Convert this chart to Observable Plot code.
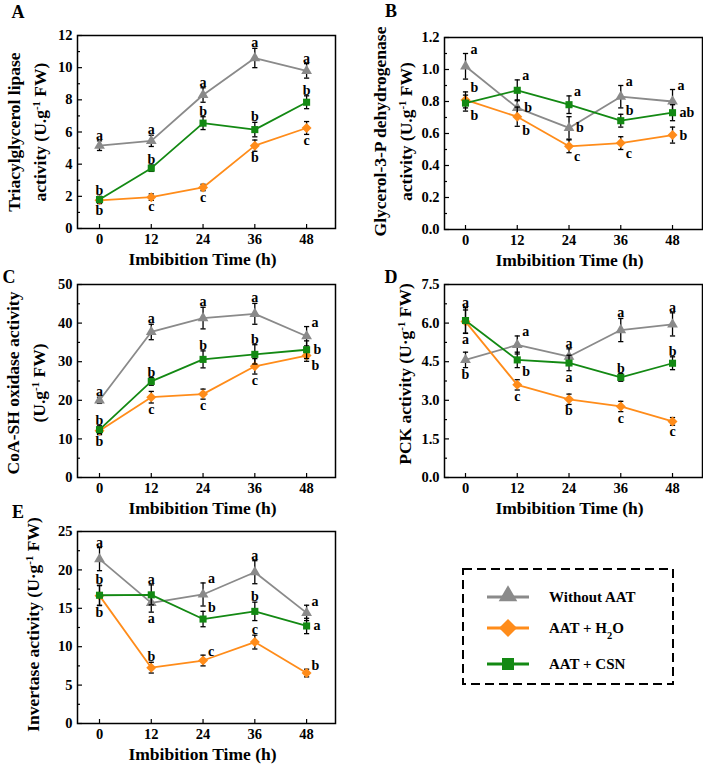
<!DOCTYPE html>
<html><head><meta charset="utf-8">
<script src="https://cdn.jsdelivr.net/npm/d3@7"></script>
<script src="https://cdn.jsdelivr.net/npm/@observablehq/plot@0.6"></script>
<style>
body{margin:0;background:#fff;}
#fig{position:relative;width:703px;height:765px;background:#fff;font-family:"Liberation Serif","Times New Roman",Times,serif;font-weight:bold;color:#000;}
.pl{position:absolute;}
.tag{position:absolute;font-size:18px;font-weight:bold;line-height:1;}
</style></head><body><div id="fig"></div>
<script>
// ---------- data ----------
const hours = [0, 12, 24, 36, 48];
const seriesNames = ["Without AAT", "AAT + H2O", "AAT + CSN"];
const seriesColors = ["#8a8a8a", "#ff8c1a", "#138913"];
const seriesSymbols = ["triangle", "diamond2", "square"];
const seriesR = [4, 4.5, 4];

// A: Triacylglycerol lipase
const tagMean = [[5.15, 5.45, 8.3, 10.6, 9.8], [1.75, 1.95, 2.55, 5.15, 6.25], [1.8, 3.75, 6.55, 6.15, 7.85]];
const tagErr = [[0.3, 0.35, 0.45, 0.6, 0.45], [0.2, 0.2, 0.2, 0.35, 0.4], [0.2, 0.2, 0.4, 0.45, 0.4]];
const tagLetter = [["a","a","a","a","a"], ["b","c","c","b","c"], ["b","b","b","b","b"]];
const tagPos = [["u","u","u","u","u"], ["d","d","d","d","d"], ["u","u","u","u","u"]];

// B: Glycerol-3-P dehydrogenase
const g3pMean = [[1.02, 0.76, 0.635, 0.83, 0.80], [0.81, 0.705, 0.52, 0.54, 0.59], [0.79, 0.87, 0.78, 0.68, 0.73]];
const g3pErr = [[0.08, 0.05, 0.07, 0.07, 0.075], [0.05, 0.06, 0.04, 0.04, 0.05], [0.05, 0.065, 0.055, 0.04, 0.05]];
const g3pLetter = [["a","b","b","a","a"], ["b","b","c","c","b"], ["b","a","a","b","ab"]];
const g3pPos = [["ru","r","r","ru","ru"], ["ru","rd","rd","rd","r"], ["rd","ru","ru","ru","r"]];

// C: CoA-SH oxidase
const coaMean = [[20, 37.7, 41.3, 42.4, 36.6], [12.1, 20.8, 21.6, 28.8, 31.6], [12.4, 24.9, 30.6, 31.9, 33.1]];
const coaErr = [[0.8, 2, 2.8, 2.7, 2.5], [1, 1.5, 1.3, 2, 1.5], [1, 1, 2.2, 2.5, 2.3]];
const coaLetter = [["a","a","a","a","a"], ["b","c","c","c","b"], ["b","b","b","b","b"]];
const coaPos = [["u","u","u","u","ru"], ["d","d","d","d","rd"], ["u","u","u","u","r"]];

// D: PCK
const pckMean = [[4.57, 5.15, 4.7, 5.73, 5.95], [6.06, 3.6, 3.04, 2.76, 2.18], [6.1, 4.57, 4.45, 3.89, 4.44]];
const pckErr = [[0.3, 0.35, 0.3, 0.45, 0.45], [0.45, 0.2, 0.2, 0.2, 0.15], [0.5, 0.3, 0.3, 0.15, 0.25]];
const pckLetter = [["b","a","a","a","a"], ["a","c","b","c","c"], ["a","b","a","b","b"]];
const pckPos = [["d","ru","u","u","u"], ["d","d","d","d","d"], ["u","rd","d","u","u"]];

// E: Invertase
const invMean = [[21.4, 15.7, 16.8, 19.7, 14.4], [16.65, 7.27, 8.2, 10.6, 6.57], [16.7, 16.75, 13.6, 14.6, 12.7]];
const invErr = [[1.5, 1.2, 1.5, 1.5, 1.0], [1.3, 0.7, 0.7, 0.9, 0.5], [1.3, 1.3, 1.0, 1.2, 1.0]];
const invLetter = [["a","a","a","a","a"], ["b","b","c","c","b"], ["b","a","b","b","a"]];
const invPos = [["u","d","ru","u","ru"], ["d","u","ru","u","ru"], ["u","u","ru","u","r"]];

// ---------- drawing ----------
const FONT = '"Liberation Serif", "Times New Roman", Times, serif';
const fig = document.getElementById("fig");
const capSym = {draw(c) { c.moveTo(-2.6, 0); c.lineTo(2.6, 0); }};
const tickUp = {draw(c) { c.moveTo(0, 0); c.lineTo(0, -4.5); }};
const tickMajorY = {draw(c) { c.moveTo(0, 0); c.lineTo(4.5, 0); }};
const tickMinorY = {draw(c) { c.moveTo(0, 0); c.lineTo(2.5, 0); }};

function supify(svg) {
  svg.querySelectorAll("text, tspan").forEach(el => {
    if (el.children.length) return;
    const s = el.textContent;
    const i = s.indexOf("⁻¹");
    if (i < 0) return;
    el.textContent = "";
    el.append(document.createTextNode(s.slice(0, i)));
    const sup = document.createElementNS("http://www.w3.org/2000/svg", "tspan");
    sup.setAttribute("baseline-shift", "super");
    sup.setAttribute("font-size", "0.62em");
    sup.textContent = "-1";
    el.append(sup);
    const rest = document.createElementNS("http://www.w3.org/2000/svg", "tspan");
    rest.textContent = s.slice(i + 2);
    el.append(rest);
  });
}

const place = {
  u: {y: d => d.v + d.e, lineAnchor: "bottom", dy: -1, textAnchor: "middle"},
  d: {y: d => d.v - d.e, lineAnchor: "top", dy: 1, textAnchor: "middle"},
  r: {y: d => d.v, lineAnchor: "middle", dx: 7, textAnchor: "start"},
  ru: {y: d => d.v + d.e, lineAnchor: "middle", dx: 5, dy: -4, textAnchor: "start"},
  rd: {y: d => d.v - d.e, lineAnchor: "middle", dx: 5, dy: 4, textAnchor: "start"}
};

function panel(cfg) {
  const rows = [];
  cfg.mean.forEach((arr, s) => arr.forEach((v, i) => rows.push({
    t: hours[i], v, e: cfg.err[s][i], s, L: cfg.letter[s][i], p: cfg.pos[s][i]
  })));
  const n = Math.round(cfg.yMax / cfg.yStep);
  const yTicks = d3.range(0, n + 1).map(k => +(k * cfg.yStep).toFixed(4));
  const yMinor = d3.range(0, n).map(k => +((k + 0.5) * cfg.yStep).toFixed(4));
  const marks = [];
  for (let s = 0; s < 3; s++) {
    const rs = rows.filter(d => d.s === s);
    marks.push(
      Plot.ruleX(rs, {x: "t", y1: d => d.v - d.e, y2: d => d.v + d.e, stroke: "black", strokeWidth: 1.3}),
      Plot.dot(rs, {x: "t", y: d => d.v + d.e, symbol: capSym, stroke: "black", fill: "none", strokeWidth: 1.3}),
      Plot.dot(rs, {x: "t", y: d => d.v - d.e, symbol: capSym, stroke: "black", fill: "none", strokeWidth: 1.3}),
      Plot.line(rs, {x: "t", y: "v", stroke: seriesColors[s], strokeWidth: 1.8}),
      Plot.dot(rs, {x: "t", y: "v", symbol: seriesSymbols[s], fill: seriesColors[s], stroke: "none", r: seriesR[s]})
    );
  }
  for (const [k, o] of Object.entries(place)) {
    const rs = rows.filter(d => d.p === k);
    if (rs.length) marks.push(Plot.text(rs, {x: "t", text: "L", fontSize: 14, fontWeight: "bold", fill: "black", ...o}));
  }
  marks.push(
    Plot.axisX({ticks: hours, tickSize: 0, tickPadding: 5, fontSize: 14.5, fontWeight: "bold", label: null}),
    Plot.axisY({ticks: yTicks, tickSize: 0, tickPadding: 5, tickFormat: cfg.yFmt, fontSize: 14.5, fontWeight: "bold", label: null}),
    Plot.dot(hours, {x: d => d, frameAnchor: "bottom", symbol: tickUp, stroke: "black", fill: "none", strokeWidth: 1.2}),
    Plot.dot(yTicks, {y: d => d, frameAnchor: "left", symbol: tickMajorY, stroke: "black", fill: "none", strokeWidth: 1.2}),
    Plot.dot(yMinor, {y: d => d, frameAnchor: "left", symbol: tickMinorY, stroke: "black", fill: "none", strokeWidth: 1.2}),
    Plot.frame({stroke: "black", strokeWidth: 1.5}),
    Plot.text([cfg.yLabel], {text: d => d, frameAnchor: "left", rotate: -90, dx: cfg.labelDx, dy: cfg.labelDy,
      textAnchor: "middle", lineAnchor: "middle", lineHeight: 1.5, fontSize: 17.5, fontWeight: "bold", fill: "black"}),
    Plot.text(["Imbibition Time (h)"], {text: d => d, frameAnchor: "bottom", dx: -4, dy: 31,
      textAnchor: "middle", lineAnchor: "middle", fontSize: 17.5, fontWeight: "bold", fill: "black"})
  );
  const plot = Plot.plot({
    width: cfg.width, height: cfg.height,
    marginLeft: cfg.ml, marginRight: cfg.mr, marginTop: cfg.mt, marginBottom: cfg.mb,
    x: {domain: cfg.xDomain},
    y: {domain: [0, cfg.yMax]},
    style: {fontFamily: FONT, fontWeight: "bold", fontSize: "14.5px", background: "transparent", color: "black", overflow: "visible"},
    marks
  });
  supify(plot);
  const div = document.createElement("div");
  div.className = "pl";
  div.style.left = cfg.left + "px";
  div.style.top = cfg.top + "px";
  div.style.width = cfg.width + "px";
  div.appendChild(plot);
  fig.appendChild(div);
}

const fmt1 = d3.format(".1f");
const xL = [-5.1, 54.7], xR = [-4.87, 54.95];

panel({mean: tagMean, err: tagErr, letter: tagLetter, pos: tagPos, yMax: 12, yStep: 2, yFmt: null,
  yLabel: "Triacylglycerol lipase\nactivity (U.g⁻¹ FW)", labelDx: -53, labelDy: 0,
  left: 0, top: 0, width: 350, height: 270, ml: 77, mr: 15, mt: 35, mb: 42, xDomain: xL});
panel({mean: g3pMean, err: g3pErr, letter: g3pLetter, pos: g3pPos, yMax: 1.2, yStep: 0.2, yFmt: fmt1,
  yLabel: "Glycerol-3-P dehydrogenase\nactivity (U.g⁻¹ FW)", labelDx: -54, labelDy: -2,
  left: 350, top: 0, width: 353, height: 270, ml: 94, mr: 1, mt: 37, mb: 41, xDomain: xR});
panel({mean: coaMean, err: coaErr, letter: coaLetter, pos: coaPos, yMax: 50, yStep: 10, yFmt: null,
  yLabel: "CoA-SH oxidase activity\n(U.g⁻¹ FW)", labelDx: -54, labelDy: 2,
  left: 0, top: 270, width: 350, height: 260, ml: 77, mr: 15, mt: 14, mb: 53, xDomain: xL});
panel({mean: pckMean, err: pckErr, letter: pckLetter, pos: pckPos, yMax: 7.5, yStep: 1.5, yFmt: fmt1,
  yLabel: "PCK activity (U·g⁻¹ FW)", labelDx: -42, labelDy: -7,
  left: 350, top: 270, width: 353, height: 260, ml: 94, mr: 1, mt: 14, mb: 53, xDomain: xR});
panel({mean: invMean, err: invErr, letter: invLetter, pos: invPos, yMax: 25, yStep: 5, yFmt: null,
  yLabel: "Invertase activity (U·g⁻¹ FW)", labelDx: -47, labelDy: -3,
  left: 0, top: 525, width: 350, height: 240, ml: 77, mr: 15, mt: 6, mb: 42, xDomain: xL});

// panel tags
[["A", 18, 12], ["B", 391, 11], ["C", 9, 277], ["D", 391, 277], ["E", 18, 512]].forEach(([t, x, y]) => {
  const d = document.createElement("div");
  d.className = "tag";
  d.textContent = t;
  d.style.left = x + "px";
  d.style.top = y + "px";
  d.style.transform = "translate(-50%,-50%)";
  fig.appendChild(d);
});

// legend
const lg = d3.create("svg").attr("width", 240).attr("height", 140)
  .style("position", "absolute").style("left", "455px").style("top", "560px")
  .style("font-family", FONT).style("font-weight", "bold");
lg.append("rect").attr("x", 8).attr("y", 9).attr("width", 210).attr("height", 115)
  .attr("fill", "none").attr("stroke", "black").attr("stroke-width", 2).attr("stroke-dasharray", "9,5");
const legendY = [37, 68, 104];
const legendSym = [d3.symbol(d3.symbolTriangle, 150), d3.symbol(d3.symbolDiamond2, 206), d3.symbol(d3.symbolSquare, 144)];
seriesNames.forEach((name, i) => {
  const g = lg.append("g").attr("transform", `translate(0,${legendY[i]})`);
  g.append("line").attr("x1", 32).attr("x2", 74).attr("stroke", seriesColors[i]).attr("stroke-width", 3);
  g.append("path").attr("d", legendSym[i]()).attr("transform", `translate(53,${i === 0 ? -1 : 0})`).attr("fill", seriesColors[i]);
  const tx = g.append("text").attr("x", 94).attr("y", 5).attr("font-size", 15);
  if (name.includes("H2O")) {
    tx.append("tspan").text("AAT + H");
    tx.append("tspan").attr("baseline-shift", "sub").attr("font-size", "0.7em").text("2");
    tx.append("tspan").text("O");
  } else tx.text(name);
});
fig.appendChild(lg.node());
</script></body></html>
